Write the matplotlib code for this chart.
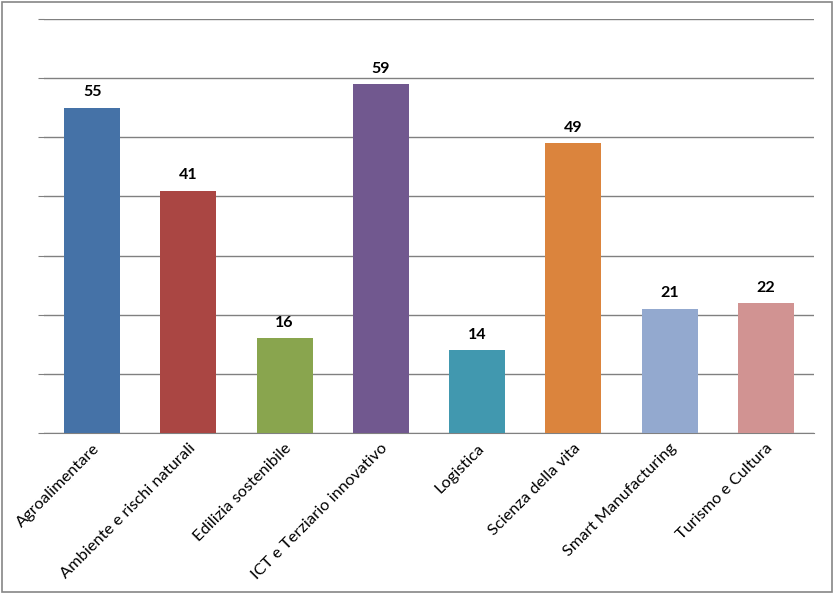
import matplotlib.pyplot as plt
import numpy as np

categories = ['Agroalimentare', 'Ambiente e rischi naturali', 'Edilizia sostenibile',
              'ICT e Terziario innovativo', 'Logistica', 'Scienza della vita',
              'Smart Manufacturing', 'Turismo e Cultura']
values = [55, 41, 16, 59, 14, 49, 21, 22]
colors = ['#4572A7', '#AA4643', '#89A54E', '#71588F', '#4198AF', '#DB843D', '#93A9CF', '#D19392']

plt.rcParams['font.family'] = ['Lato', 'DejaVu Sans']

fig = plt.figure(figsize=(8.34, 5.94), dpi=100)
ax = fig.add_axes([0.0528, 0.271, 0.9232, 0.697])

x = np.arange(len(categories))
bars = ax.bar(x, values, width=0.58, color=colors, zorder=3)
ax.bar_label(bars, padding=6, fontsize=11.5, fontweight='bold')

ax.set_xlim(-0.5, len(categories) - 0.5)
ax.set_ylim(0, 70)
ax.set_yticks(np.arange(0, 71, 10))
ax.set_yticklabels([])
ax.tick_params(axis='y', length=4, color='#808080')
ax.tick_params(axis='x', length=0, pad=6)
ax.yaxis.grid(True, color='#808080', linewidth=1)
for s in ['top', 'right', 'left']:
    ax.spines[s].set_visible(False)
ax.spines['bottom'].set_color('#808080')

ax.set_xticks(x)
ax.set_xticklabels(categories, rotation=45, ha='right', rotation_mode='anchor', fontsize=11.8)

fig.patches.append(plt.Rectangle((0.002, 0.003), 0.996, 0.994, transform=fig.transFigure,
                                 fill=False, edgecolor='#868686', linewidth=1.2))

fig.savefig('out.png', dpi=100)
